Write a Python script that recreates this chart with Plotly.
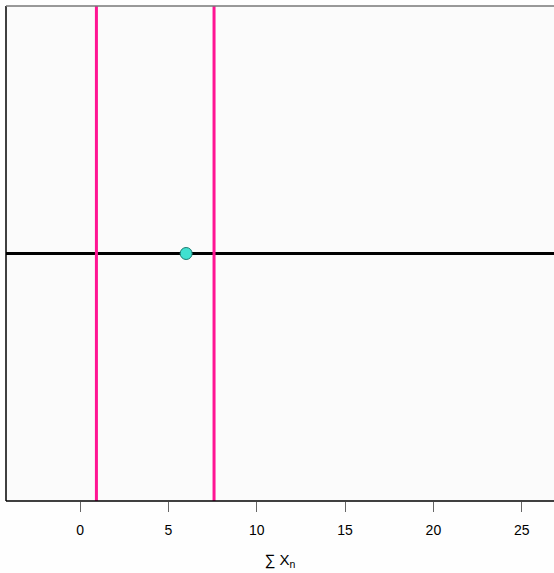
import plotly.graph_objects as go

# data
interval_bounds = [0.92, 7.58]
point_x = [6.0]
point_y = [0.0]
hline_y = 0.0
x_ticks = [0, 5, 10, 15, 20, 25]
x_range = [-4.2, 26.83]
y_range = [-1.0, 1.0]

fig = go.Figure()

# horizontal black line
fig.add_trace(go.Scatter(x=[x_range[0] - 5, x_range[1] + 5], y=[hline_y, hline_y],
                         mode="lines", line=dict(color="black", width=3),
                         hoverinfo="skip", showlegend=False))
# vertical pink lines
for b in interval_bounds:
    fig.add_trace(go.Scatter(x=[b, b], y=[y_range[0] - 1, y_range[1] + 1], mode="lines",
                             line=dict(color="#FF1493", width=3),
                             hoverinfo="skip", showlegend=False))
# point
fig.add_trace(go.Scatter(x=point_x, y=point_y, mode="markers",
                         marker=dict(size=12, color="#40E0D0",
                                     line=dict(color="#1a7a70", width=1)),
                         showlegend=False))

fig.update_layout(
    width=554, height=573,
    margin=dict(l=6, r=0, t=6, b=72),
    paper_bgcolor="#fefefe",
    plot_bgcolor="#fbfbfb",
    font=dict(family="Liberation Sans, Arial, sans-serif", size=14, color="black"),
    xaxis=dict(range=x_range, tickvals=x_ticks, ticks="outside", ticklen=10,
               tickcolor="#666666", tickwidth=1, showgrid=False, zeroline=False,
               showline=False, ticklabelstandoff=6,
               title=dict(text="∑ X<sub>n</sub>", standoff=17, font=dict(size=15))),
    yaxis=dict(range=y_range, showticklabels=False, ticks="", showgrid=False,
               zeroline=False, showline=False),
    shapes=[
        dict(type="line", xref="paper", yref="paper", x0=0, x1=1, y0=0, y1=0,
             line=dict(color="black", width=1.5)),
        dict(type="line", xref="paper", yref="paper", x0=0, x1=0, y0=0, y1=1,
             line=dict(color="black", width=1.5)),
        dict(type="line", xref="paper", yref="paper", x0=0, x1=1, y0=1, y1=1,
             line=dict(color="#777777", width=1.5)),
    ],
)

fig.write_html("out.html", config={"displayModeBar": False},
               post_script="document.body.style.margin='0';document.body.style.overflow='hidden';")
